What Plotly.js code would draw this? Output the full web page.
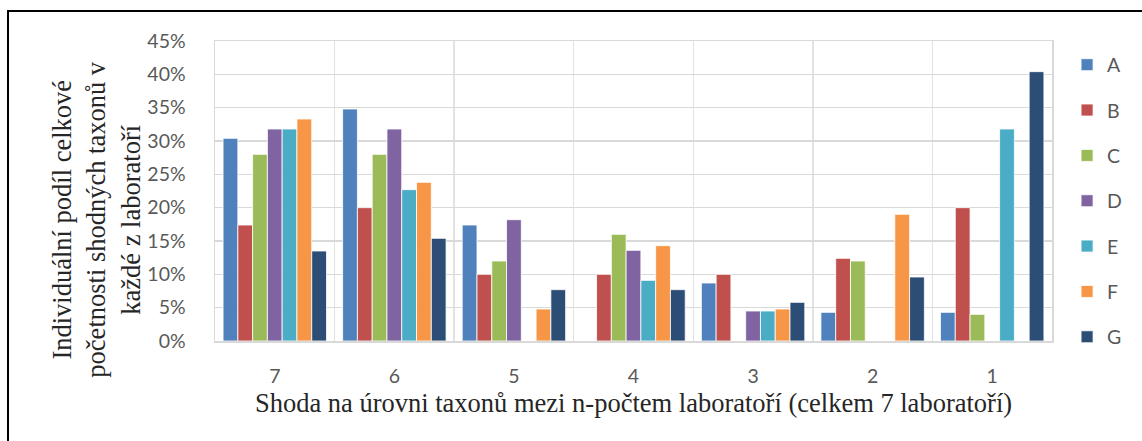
<!DOCTYPE html>
<html>
<head>
<meta charset="utf-8">
<script src="https://cdn.plot.ly/plotly-3.0.1.min.js"></script>
<style>
  html, body { margin: 0; padding: 0; background: #fff; overflow: hidden; }
  #wrap { position: relative; width: 1142px; height: 441px; }
  #chart { position: absolute; left: 0; top: 0; width: 1142px; height: 441px; }
  #frame { position: absolute; left: 7px; top: 10px; width: 1200px; height: 500px;
           border-left: 2px solid #000; border-top: 2px solid #000; pointer-events: none; }
</style>
</head>
<body>
<div id="wrap">
  <div id="chart"></div>
  <div id="frame"></div>
</div>
<script>
const categories = ["7", "6", "5", "4", "3", "2", "1"];
const seriesNames = ["A", "B", "C", "D", "E", "F", "G"];
const A = [0.304, 0.348, 0.174, 0.000, 0.087, 0.043, 0.043];
const B = [0.174, 0.200, 0.100, 0.100, 0.100, 0.124, 0.200];
const C = [0.280, 0.280, 0.120, 0.160, 0.000, 0.120, 0.040];
const D = [0.318, 0.318, 0.182, 0.136, 0.045, 0.000, 0.000];
const E = [0.318, 0.227, 0.000, 0.091, 0.045, 0.000, 0.318];
const F = [0.333, 0.238, 0.048, 0.143, 0.048, 0.190, 0.000];
const G = [0.135, 0.154, 0.077, 0.077, 0.058, 0.096, 0.404];
const seriesValues = [A, B, C, D, E, F, G];
const colors = ["#4F81BD", "#C0504D", "#9BBB59", "#8064A2", "#4BACC6", "#F79646", "#2C4D75"];
const yTickVals = [0, 0.05, 0.10, 0.15, 0.20, 0.25, 0.30, 0.35, 0.40, 0.45];
const yTickText = ["0%", "5%", "10%", "15%", "20%", "25%", "30%", "35%", "40%", "45%"];
const xTitle = "Shoda na úrovni taxonů mezi n-počtem laboratoří (celkem 7 laboratoří)";
const yTitle = "Individuální podíl celkové<br>početnosti shodných taxonů v<br>každé z laboratoří";

const traces = seriesNames.map((name, i) => ({
  type: "bar",
  name: name,
  x: categories,
  y: seriesValues[i],
  legendgroup: name,
  marker: { color: colors[i], line: { color: "#ffffff", width: 0.8 } },
  hoverinfo: "x+y+name"
}));

const layout = {
  width: 1142,
  height: 441,
  margin: { l: 215, r: 90, t: 41, b: 99.5, pad: 0 },
  paper_bgcolor: "#ffffff",
  plot_bgcolor: "#ffffff",
  barmode: "group",
  bargap: 0.135,
  bargroupgap: 0,
  font: { family: "Lato, 'Open Sans', sans-serif", color: "#595959", size: 19.5 },
  xaxis: {
    type: "category",
    tickson: "boundaries",
    showgrid: true,
    gridcolor: "#e2e2e2",
    gridwidth: 1.5,
    showline: true,
    linecolor: "#d9d9d9",
    linewidth: 1.5,
    mirror: true,
    ticks: "",
    ticklabelstandoff: 17,
    tickfont: { family: "Lato, sans-serif", size: 19.5, color: "#595959" },
    title: {
      text: xTitle,
      font: { family: "'Liberation Serif', 'Times New Roman', serif", size: 26.5, color: "#262626" },
      standoff: 7
    },
    fixedrange: true
  },
  yaxis: {
    range: [0, 0.45],
    tickvals: yTickVals,
    ticktext: yTickText,
    showgrid: true,
    gridcolor: "#d9d9d9",
    gridwidth: 1.5,
    showline: true,
    linecolor: "#d9d9d9",
    linewidth: 1.5,
    mirror: true,
    zeroline: false,
    ticks: "",
    ticklabelstandoff: 24,
    tickfont: { family: "Lato, sans-serif", size: 19.5, color: "#595959" },
    fixedrange: true
  },
  legend: {
    x: 1.018,
    xanchor: "left",
    y: 0.985,
    yanchor: "top",
    tracegroupgap: 17,
    font: { family: "Lato, sans-serif", size: 19.5, color: "#595959" },
    itemwidth: 30,
    bgcolor: "rgba(0,0,0,0)"
  },
  annotations: [{
    text: yTitle,
    xref: "paper",
    yref: "paper",
    x: -0.142,
    y: 0.405,
    xanchor: "center",
    yanchor: "middle",
    textangle: -90,
    showarrow: false,
    align: "center",
    font: { family: "'Liberation Serif', 'Times New Roman', serif", size: 26.5, color: "#262626" }
  }],
  showlegend: true
};

Plotly.newPlot("chart", traces, layout, { staticPlot: true, displayModeBar: false });
</script>
</body>
</html>
